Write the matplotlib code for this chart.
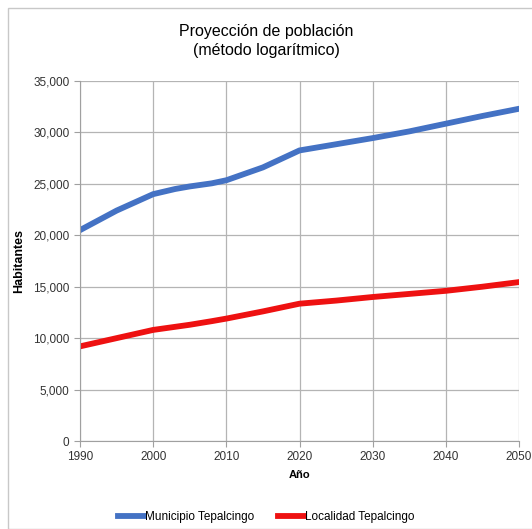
import matplotlib
matplotlib.use("Agg")
import matplotlib.pyplot as plt
from matplotlib.patches import Rectangle
from matplotlib.ticker import FuncFormatter

plt.rcParams["font.family"] = ["Liberation Sans", "DejaVu Sans"]

# Valores (proyección por método logarítmico)
years = [1990, 1995, 2000, 2003, 2005, 2008, 2010, 2015, 2020, 2025, 2030, 2035, 2040, 2045, 2050]
municipio = [20500, 22400, 24000, 24500, 24750, 25050, 25350, 26600, 28250, 28850, 29450,
             30100, 30850, 31600, 32300]
localidad = [9200, 10000, 10800, 11100, 11300, 11650, 11900, 12600, 13350, 13650, 14000,
             14300, 14600, 15000, 15450]
x_ticks = [1990, 2000, 2010, 2020, 2030, 2040, 2050]
y_ticks = [0, 5000, 10000, 15000, 20000, 25000, 30000, 35000]

fig = plt.figure(figsize=(5.32, 5.29), dpi=100)
ax = fig.add_axes([80 / 532, 1 - 441 / 529, (519 - 80) / 532, (441 - 81) / 529])

# marco exterior del gráfico
fig.patches.append(Rectangle((8 / 532, 0.0), 530 / 532, 521 / 529,
                             transform=fig.transFigure, fill=False,
                             edgecolor="#C8C8C8", linewidth=1.0))

ax.plot(years, municipio, color="#4472C4", linewidth=4.2,
        label="Municipio Tepalcingo", solid_joinstyle="round")
ax.plot(years, localidad, color="#EE1111", linewidth=4.2,
        label="Localidad Tepalcingo", solid_joinstyle="round")

ax.set_xlim(1990, 2050)
ax.set_ylim(0, 35000)
ax.set_xticks(x_ticks)
ax.set_yticks(y_ticks)
ax.yaxis.set_major_formatter(FuncFormatter(lambda v, p: f"{int(v):,}"))
ax.grid(True, color="#B4B4B4", linewidth=0.9)
ax.set_axisbelow(True)
for s in ["top", "right"]:
    ax.spines[s].set_visible(False)
for s in ["left", "bottom"]:
    ax.spines[s].set_color("#A0A0A0")
ax.tick_params(axis="both", labelsize=8.5, colors="#A0A0A0", labelcolor="#333333",
               length=4, direction="out")

ax.set_xlabel("Año", fontsize=8, fontweight="bold", labelpad=5)
ax.set_ylabel("Habitantes", fontsize=9, fontweight="bold", labelpad=6)
fig.text(0.5, 1 - 41 / 529, "Proyección de población\n(método logarítmico)",
         ha="center", va="center", fontsize=11.5, linespacing=1.3)

fig.legend(loc="center", bbox_to_anchor=(0.5, 1 - 517 / 529), ncol=2, frameon=False,
           fontsize=8.5, handlelength=2.2, handletextpad=0.1, columnspacing=2.0)

fig.savefig("out.png", dpi=100)
